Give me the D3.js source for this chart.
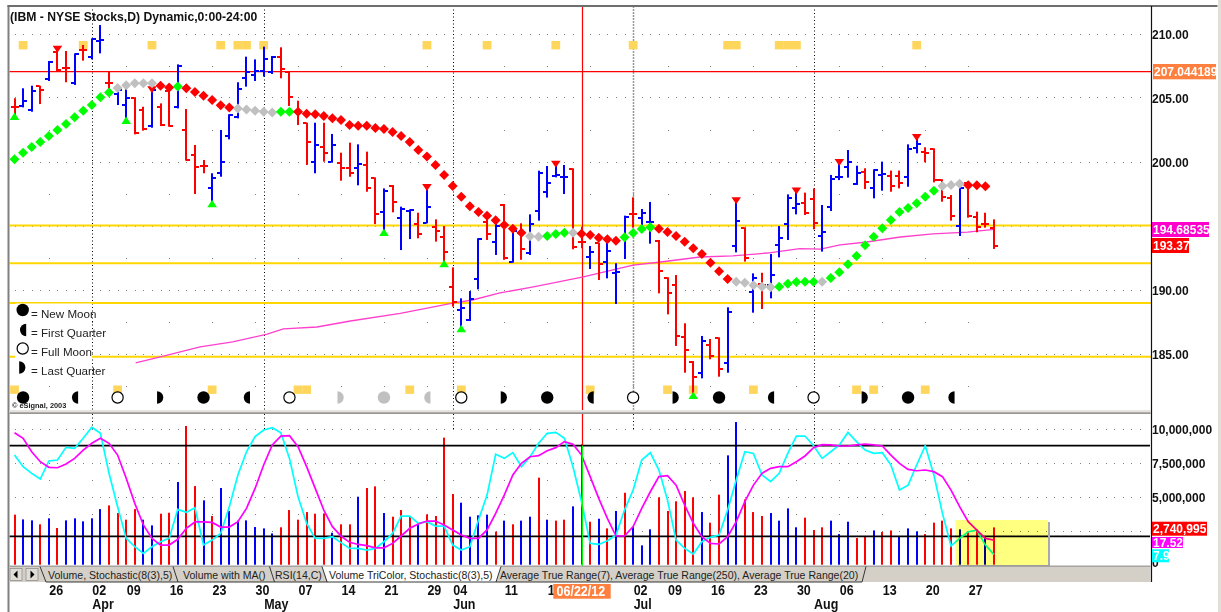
<!DOCTYPE html>
<html><head><meta charset="utf-8">
<script src="https://cdnjs.cloudflare.com/ajax/libs/d3/7.8.5/d3.min.js"></script>
<style>
html,body{margin:0;padding:0;background:#fff;overflow:hidden}
text{font-family:"Liberation Sans",Arial,sans-serif}
</style></head><body><svg id="c" width="1221" height="612"></svg>
<script>
const highP=[
204.94,205.72,205.92,205.92,207.85,208.97,208.63,208.45,209.10,209.62,
210.66,207.02,205.64,206.16,205.01,204.28,205.80,204.54,205.80,207.59,
204.10,201.29,200.12,199.08,202.46,203.69,206.19,208.19,207.98,208.97,
208.24,208.92,207.07,204.75,203.03,203.03,203.03,202.15,200.69,201.47,
201.34,200.77,198.76,197.90,198.16,196.47,196.26,196.00,198.16,195.48,
194.96,191.73,189.31,189.88,194.00,196.00,195.12,196.68,194.70,195.17,
195.87,199.28,199.65,199.99,199.73,199.47,194.91,193.40,193.66,193.87,
192.05,195.77,197.20,196.29,196.84,193.87,190.95,191.13,187.36,184.41,
186.37,186.13,186.26,188.61,197.12,194.86,191.26,191.31,192.77,194.96,
197.43,197.90,197.57,197.90,196.60,198.95,200.12,200.90,199.67,199.47,
199.39,199.99,199.29,199.29,201.34,202.07,201.11,201.03,198.61,197.38,
198.11,198.29,196.08,196.00,195.48];
const lowP=[
203.55,204.23,203.89,204.49,206.29,207.02,206.19,205.98,207.88,207.98,
208.45,205.12,204.41,203.24,202.12,202.41,202.64,202.77,202.72,204.15,
200.07,197.46,199.08,196.73,198.81,201.73,203.37,205.85,206.29,206.63,
206.84,206.50,204.34,202.85,199.73,199.08,199.99,199.93,198.50,198.81,
198.14,197.64,195.11,194.50,196.03,193.08,193.94,194.00,195.17,193.74,
192.05,188.66,186.97,187.54,190.01,193.87,192.70,192.32,192.10,192.32,
192.70,195.38,197.18,198.76,197.46,193.14,193.22,191.60,190.74,190.87,
188.87,192.38,194.83,194.86,193.58,189.70,188.06,185.59,183.50,181.76,
183.06,184.55,183.19,183.50,192.90,192.18,188.19,188.48,189.31,192.51,
193.87,195.87,195.82,194.70,192.96,196.13,198.55,198.74,198.17,197.85,
197.12,197.72,197.64,197.90,198.03,200.64,199.94,198.37,196.86,195.38,
194.18,195.61,194.47,194.83,193.17];
const openP=[
204.28,204.34,204.02,205.90,206.42,208.58,207.33,206.11,208.71,208.19,
209.44,206.16,205.25,204.41,204.93,204.02,202.77,204.23,205.53,204.28,
202.46,200.51,199.65,197.90,199.08,201.99,203.45,206.55,206.73,207.10,
207.02,208.19,207.02,203.89,202.98,199.99,201.16,200.00,199.91,199.47,
199.47,199.73,198.68,196.03,198.08,195.61,196.13,195.10,195.22,194.86,
194.13,190.17,188.40,187.62,190.82,195.30,193.74,196.60,192.15,194.39,
192.83,196.13,197.59,198.89,198.76,199.39,193.74,192.57,193.60,192.12,
191.31,194.00,195.90,195.56,195.25,193.82,190.87,190.35,186.26,184.31,
183.45,185.66,186.18,184.23,193.42,194.78,189.83,190.40,190.35,193.48,
195.12,196.34,196.73,197.04,194.18,196.47,198.76,199.54,198.24,199.20,
197.90,198.95,198.87,198.87,198.82,201.03,200.77,200.95,198.55,197.12,
194.99,198.29,195.69,195.12,194.78];
const closeP=[
204.28,204.70,205.53,205.59,207.80,207.15,207.33,208.37,208.71,209.54,
209.49,206.16,205.59,204.94,202.25,202.51,205.59,202.83,202.77,207.49,
200.12,199.54,199.65,198.68,199.99,203.63,205.64,206.97,207.07,207.98,
208.14,207.25,205.01,203.89,201.50,201.29,200.64,201.29,199.47,199.08,
199.80,197.90,195.87,197.72,196.86,196.26,196.20,194.34,196.47,194.57,
192.90,189.05,188.58,189.23,193.95,194.34,194.99,192.49,194.60,193.14,
195.12,199.13,198.30,198.95,198.82,193.35,193.74,192.93,191.99,193.03,
191.39,195.64,195.90,195.95,195.30,191.47,189.70,186.37,185.27,183.14,
186.00,184.80,183.76,188.27,195.38,192.44,190.93,190.35,191.13,194.05,
197.12,196.68,195.95,195.17,194.47,198.61,198.82,199.94,199.08,198.37,
199.34,199.02,198.11,198.35,200.95,201.34,200.69,198.55,197.25,195.74,
197.90,195.74,194.91,195.12,193.37];
const dynMA=[
200.17,200.69,201.13,201.52,201.99,202.46,202.93,203.45,203.97,204.41,
205.01,205.40,205.74,205.95,206.11,206.11,206.11,205.92,205.79,205.85,
205.72,205.43,205.14,204.80,204.39,204.21,204.15,204.07,203.97,203.89,
203.82,203.89,203.89,203.89,203.74,203.69,203.55,203.37,203.24,202.85,
202.80,202.80,202.62,202.54,202.30,201.99,201.52,200.90,200.39,199.73,
198.94,198.09,197.25,196.50,196.05,195.77,195.41,195.04,194.75,194.44,
194.16,194.13,194.18,194.34,194.44,194.44,194.36,194.26,194.05,193.92,
193.81,194.08,194.41,194.73,194.86,194.75,194.49,194.18,193.74,193.22,
192.77,192.09,191.42,190.82,190.61,190.53,190.33,190.22,190.17,190.22,
190.45,190.59,190.61,190.61,190.61,190.90,191.34,191.97,192.62,193.45,
194.13,194.78,195.43,196.05,196.37,196.73,197.25,197.72,198.09,198.17,
198.27,198.14,198.14,198.06];
const dynState=(
"gggggggggggg"+"sssss"+"rr"+"g"+"rrrrrr"+"sssss"+"gg"+
"rrrrrrrrrrrrrrrrrrrrrrrrrrr"+"ss"+"ggg"+"s"+"rrrrr"+"gggg"+"rrrrrrrrr"+
"sssss"+"ggggg"+"s"+"ggggggggggggg"+"sss"+"rrr").split("");
const smaIdx=[14.1,17.8,21.6,25.4,29.4,31.3,35.2,39.1,44.9,51,53.3,56.5,60.4,66.2,72,75.2,79.8,83.6,87.6,91.4,93.8,96.1,99.2,103.1,106.9,110.9,114];
const smaVal=[184.26,184.88,185.51,185.9,186.52,186.92,187.07,187.54,188.13,188.94,189.18,189.73,190.2,190.98,191.91,192.15,192.54,192.62,192.85,193.19,193.16,193.48,193.71,194.1,194.34,194.49,194.69];
const upSignals=[0,13,23,43,50,52,79];
const downSignals=[5,16,48,63,84,91,96,105];
const squaresTop=[1,8,16,24,26,27,29,48,55,63,72,83,84,89,90,91,105];
const squaresBottom=[0,12,23,33,34,46,52,67,76,79,86,98,100,106];
const moonIdx=[1,7,12,17,22,27,32,38,43,48,52,57,62,67,72,77,82,88,93,99,104,109];
const moonPhase=["new","first","full","last","new","first","full","last","new","first","full","last","new","first","full","last","new","first","full","last","new","first"];
const moonGray=[38,43,48];
const levelLines=[195,192.05,188.95,184.75];
const pivotLevel=207.044189;
const volumeM=[
3.68,3.33,3.26,2.97,3.41,2.70,3.26,3.41,3.19,3.41,
4.09,4.36,3.80,3.31,4.09,3.31,2.89,3.75,3.82,6.08,
10.20,5.78,4.73,3.58,5.64,3.95,3.24,3.26,2.77,2.67,
2.30,2.75,4.02,3.31,3.87,3.75,3.77,2.35,2.97,2.97,
5.00,5.64,5.76,3.80,3.53,4.02,3.53,2.97,3.70,3.58,
9.34,5.20,4.56,3.53,3.63,3.68,2.43,3.24,2.97,3.24,
3.53,6.40,3.31,3.24,3.31,4.29,8.85,3.16,3.38,2.67,
3.95,5.29,2.79,1.42,2.60,4.95,3.95,4.66,5.42,4.95,
3.87,3.09,5.15,8.04,10.49,4.80,3.87,3.58,3.80,3.24,
4.14,2.75,3.46,2.55,2.75,3.24,2.25,3.16,1.96,2.11,
2.52,2.40,2.52,2.11,2.67,2.45,2.25,3.09,3.24,2.67,
2.60,2.45,2.60,2.11,2.741];
const volumeColor=(
"rbbrbrbbbbbrrrrbbrrbrrbrbbbbbbbrrrrrrbrrbrrbr"+
"rrbrrrrbbbbrbrbbrbrrbrrbrbrbbbrrrrrbrrbbrrrbbbb"+
"rrrbbbrrbrrbbbrrrrbrrbr").split("");
const stochK=[
73.8,66.1,61.7,57.9,69.9,70.5,78.9,78.2,84.9,92.2,
88.2,61.7,39.6,18.6,13.1,8.7,13.1,16.4,18.6,37.8,
35.9,38.9,14.2,17.5,21.9,39.6,60.6,76,86,90.4,
91.9,88.6,71.6,46.2,28.6,18.6,18.6,19.7,15.8,12,
12,10.9,12,16.4,21.9,33.4,33.4,28.6,29.7,26.8,
26.8,14.2,10.9,13.1,30.8,47.3,74.3,71.6,75.4,66.1,
72.7,81.6,88.2,88.8,84.9,66.1,42.9,15.3,14.6,17.1,
20.8,37.4,50.6,70.5,75.4,63.9,44,17.5,12,8.3,
16.4,19.3,20.8,37.4,57.3,76,74.9,60.6,56.2,61.7,
74.9,86.4,86.4,80,71.6,76,80.5,88.8,82.7,77.1,
74.9,75.4,67.2,50.6,53.9,67.2,80,60.6,35.2,13.6,
18.6,23,24.1,14.2,7.9];
const stochD=[
88.6,84.9,76,69.4,65.7,65.4,67.9,71.6,77.1,81.6,
84.9,81.6,73.8,58.4,41.8,27.5,18.6,14.2,14.2,18,
25.3,29.5,29.5,29.2,26.1,26.1,29.7,38.5,51.7,67.2,
80.5,86.4,86.6,79.3,66.1,51.7,37.4,26.4,20.2,16,
14.6,13.8,12.4,12.4,15.3,20.2,25.3,28.1,30.1,30.1,
27.5,24.2,20.8,18.6,18.6,24.2,35.2,47.3,60.6,68.3,
72.7,73.4,76.7,78.7,82.7,80.9,73.8,59.5,45.1,31.9,
20.2,20.2,26.4,38.5,49.5,59.5,60.1,53.9,40.7,28.6,
19.7,15.3,14.9,19.7,29.7,42.9,53.9,61.7,65,66.1,
66.1,69.4,73.2,78.7,80.7,80.5,79.8,79.8,80.5,81.1,
80.5,79.8,73.8,68.3,64.3,63.4,63.9,62.8,59.5,50.6,
39.6,29.7,24.1,18.6,17.5];
const weekIdx=[4,9,13,18,23,28,33,38,43,48,51,57,62,67,72,76,81,86,91,96,101,106,111];
const weekLabels=["26","02","09","16","23","30","07","14","21","29","04","11","18","","02","09","16","23","30","06","13","20","27"];
const monthIdx=[9,29,51,72,93];
const monthLabels=["Apr","May","Jun","Jul","Aug"];
const priceTicks=[210,205,200,195,190,185];
const volTicks=[10,7.5,5,0];
const legendLabels=["= New Moon","= First Quarter","= Full Moon","= Last Quarter"];
const legendPhases=["new","first","full","last"];
const tabNames=["Volume, Stochastic(8(3),5)","Volume with MA()","RSI(14,C)","Volume TriColor, Stochastic(8(3),5)","Average True Range(7), Average True Range(250), Average True Range(20)"];
const cursorIdx=66;

const RED="#ff0000",BLUE="#0000ff",GREEN="#00ff00",GRAY="#c0c0c0",CYAN="#00ffff",MAG="#ff00ff",GOLD="#ffd700",SQ="#ffd65c",ORANGE="#ff7f3f";
const svg=d3.select("#c");
const x=d3.scaleLinear().domain([0,114]).range([14.5,994]);
const y=d3.scaleLinear().domain([210,185]).range([33.5,353.5]);
const yv=d3.scaleLinear().domain([0,10]).range([564.7,428.7]);
const ys=d3.scaleLinear().domain([0,100]).range([566.5,415.5]);
const L=9.5,R=1151,Top=6,PaneEnd=411,LTop=414,LBot=566;
const idxs=d3.range(highP.length);
const gridIdx=d3.range(0,132);
const sx=i=>Math.round(x(i));

// stretch text vertically: keep its width, enlarge its height
function stretch(sel,f){
  sel.each(function(){
    const fs=parseFloat(this.getAttribute("font-size"));
    const w=this.getComputedTextLength();
    if(!w)return;
    this.setAttribute("font-size",fs*f);
    this.setAttribute("textLength",w);
    this.setAttribute("lengthAdjust","spacingAndGlyphs");
  });
}

// grid dots
const g=svg.append("g").attr("fill","#808080");
priceTicks.forEach(p=>g.selectAll(null).data(gridIdx).join("rect").attr("x",d=>sx(d)).attr("y",Math.round(y(p))).attr("width",1).attr("height",1));
d3.range(207.5,182,-5).forEach(p=>g.selectAll(null).data(weekIdx).join("rect").attr("x",d=>sx(d)).attr("y",Math.round(y(p))).attr("width",1).attr("height",1));
[10,7.5,5,2.5].forEach(v=>g.selectAll(null).data(gridIdx).join("rect").attr("x",d=>sx(d)).attr("y",Math.round(yv(v))).attr("width",1).attr("height",1));
[6.25,3.75].forEach(v=>g.selectAll(null).data(weekIdx).join("rect").attr("x",d=>sx(d)).attr("y",Math.round(yv(v))).attr("width",1).attr("height",1));
// month dotted lines
svg.append("g").selectAll("line").data(monthIdx).join("line")
 .attr("x1",d=>sx(d)+.5).attr("x2",d=>sx(d)+.5).attr("y1",Top).attr("y2",PaneEnd)
 .attr("stroke",d=>d===72?"#999":"#000").attr("stroke-width",d=>d===72?1.5:1).attr("stroke-dasharray",d=>d===72?"2,1":"1,2.5");
svg.append("g").selectAll("line").data(monthIdx).join("line")
 .attr("x1",d=>sx(d)+.5).attr("x2",d=>sx(d)+.5).attr("y1",LTop).attr("y2",d=>d===93?446:430)
 .attr("stroke","#000").attr("stroke-dasharray","1,2.5");
// squares
const sq=svg.append("g").attr("fill",SQ);
sq.selectAll(null).data(squaresTop).join("rect").attr("x",d=>x(d)-4.4).attr("y",41).attr("width",8.8).attr("height",8.4);
sq.selectAll(null).data(squaresBottom).join("rect").attr("x",d=>x(d)-4.4).attr("y",385.5).attr("width",8.8).attr("height",8.4);
// level lines
svg.append("g").selectAll("line").data(levelLines).join("line")
 .attr("x1",L).attr("x2",R).attr("y1",d=>y(d)).attr("y2",d=>y(d)).attr("stroke",GOLD).attr("stroke-width",2);
svg.append("line").attr("x1",L).attr("x2",R).attr("y1",y(pivotLevel)+.3).attr("y2",y(pivotLevel)+.3).attr("stroke",RED).attr("stroke-width",1.2);
// cursor
const cx=sx(cursorIdx)+.5;
svg.append("line").attr("x1",cx).attr("x2",cx).attr("y1",Top).attr("y2",PaneEnd).attr("stroke",RED).attr("stroke-width",1.2);
// long MA
const sma=smaIdx.map((d,i)=>[d,smaVal[i]]);
svg.append("path").attr("d",d3.line().x(d=>x(d[0])).y(d=>y(d[1]))(sma)).attr("fill","none").attr("stroke","#ff40cc").attr("stroke-width",1.3);
// price bars
const pb=svg.append("g").selectAll("g").data(idxs).join("g").attr("fill",i=>closeP[i]>openP[i]?BLUE:RED);
pb.append("rect").attr("x",i=>sx(i)-1).attr("width",2).attr("y",i=>y(highP[i])).attr("height",i=>y(lowP[i])-y(highP[i]));
pb.append("rect").attr("x",i=>sx(i)-4).attr("width",3.5).attr("height",2).attr("y",i=>Math.round(y(openP[i]))-1);
pb.append("rect").attr("x",i=>sx(i)).attr("width",4).attr("height",2).attr("y",i=>Math.round(y(closeP[i]))-1);
// signals
svg.append("g").attr("fill",GREEN).selectAll("path").data(upSignals).join("path")
 .attr("d",i=>`M${x(i)},${y(lowP[i])-3.5}l4.8,7.5h-9.6z`);
svg.append("g").attr("fill",RED).selectAll("path").data(downSignals).join("path")
 .attr("d",i=>`M${x(i)},${y(highP[i])+6}l4.8,-7h-9.6z`);
// diamonds
svg.append("g").selectAll("path").data(dynMA).join("path")
 .attr("d",(d,i)=>`M${x(i)-5},${y(d)}l5,-5l5,5l-5,5z`)
 .attr("fill",(d,i)=>({g:GREEN,s:GRAY,r:RED})[dynState[i]]);
// moons
const half=(side,r)=>d3.arc()({innerRadius:0,outerRadius:r,startAngle:side==="first"?Math.PI:0,endAngle:side==="first"?2*Math.PI:Math.PI});
function moon(sel,phase,cx0,cy0,col){
  if(phase==="new")sel.append("circle").attr("cx",cx0).attr("cy",cy0).attr("r",6.2).attr("fill",col);
  else if(phase==="full")sel.append("circle").attr("cx",cx0).attr("cy",cy0).attr("r",5.6).attr("fill","#fff").attr("stroke",col).attr("stroke-width",1.2);
  else sel.append("path").attr("d",half(phase,6.2)).attr("transform",`translate(${cx0+(phase==="first"?3.5:-3.5)},${cy0})`).attr("fill",col);
}
const mg=svg.append("g");
moonIdx.forEach((d,i)=>moon(mg,moonPhase[i],x(d),397.5,moonGray.includes(d)?GRAY:"#000"));
// legend
svg.append("rect").attr("x",15).attr("y",303.5).attr("width",77).attr("height",76).attr("fill","#fff");
const lg=svg.append("g");
legendPhases.forEach((p,i)=>{
  moon(lg,p,22.7,[310,330,348.5,367.5][i],"#000");
  lg.append("text").attr("x",31).attr("y",[318,337,356,375][i]).attr("font-size",11.6).attr("fill","#222").text(legendLabels[i]);
});
svg.append("text").attr("x",12).attr("y",408).attr("font-size",7.4).attr("font-weight","bold").attr("fill","#222").text("© eSignal, 2003");
// title
const title=svg.append("text").attr("x",10).attr("y",20.5).attr("font-size",12.2).attr("font-weight","bold").attr("fill","#111").text("(IBM - NYSE Stocks,D) Dynamic,0:00-24:00");
stretch(title,1.08);

// lower pane
svg.append("g").selectAll("rect").data(idxs).join("rect")
 .attr("x",i=>sx(i)-1).attr("width",2).attr("y",i=>yv(volumeM[i])).attr("height",i=>yv(0)-yv(volumeM[i]))
 .attr("fill",i=>volumeColor[i]==="r"?RED:BLUE);
[80,20].forEach(v=>svg.append("line").attr("x1",L).attr("x2",R-1).attr("y1",ys(v)).attr("y2",ys(v)).attr("stroke","#000").attr("stroke-width",1.8));
const stLine=d3.line().x((d,i)=>x(i)).y(d=>ys(d));
svg.append("path").attr("d",stLine(stochK)).attr("fill","none").attr("stroke",CYAN).attr("stroke-width",1.7);
svg.append("path").attr("d",stLine(stochD)).attr("fill","none").attr("stroke",MAG).attr("stroke-width",1.7);
// cursor in lower pane
svg.append("line").attr("x1",cx).attr("x2",cx).attr("y1",LTop).attr("y2",ys(80)).attr("stroke",RED).attr("stroke-width",1.2);
svg.append("line").attr("x1",cx).attr("x2",cx).attr("y1",ys(80)).attr("y2",LBot).attr("stroke",GREEN).attr("stroke-width",1);
// yellow note
svg.append("rect").attr("x",1048).attr("y",522).attr("width",2).attr("height",45).attr("fill","#aaa");
svg.append("rect").attr("x",958).attr("y",565).attr("width",92).attr("height",2).attr("fill","#aaa");
svg.append("rect").attr("x",955.5).attr("y",520).attr("width",92.5).attr("height",45).attr("fill","#ffff80").style("mix-blend-mode","multiply");

// frame
svg.append("rect").attr("x",7.5).attr("y",5).attr("width",2).attr("height",607).attr("fill","#808080");
svg.append("rect").attr("x",7.5).attr("y",5).attr("width",1210).attr("height",2).attr("fill","#6e6e6e");
svg.append("rect").attr("x",1218).attr("y",0).attr("width",3).attr("height",612).attr("fill","#e2dfd8");
svg.append("rect").attr("x",9.5).attr("y",410).attr("width",1141).attr("height",4).attr("fill","#e6e4de");
svg.append("rect").attr("x",9.5).attr("y",412.5).attr("width",1141).attr("height",1.2).attr("fill","#777");
// tab bar
const tb=svg.append("g");
tb.append("rect").attr("x",9.5).attr("y",566).attr("width",1141).attr("height",16).attr("fill","#d4d0c8");
tb.append("rect").attr("x",9.5).attr("y",565.6).attr("width",1141).attr("height",1).attr("fill","#8a8a8a");
[10,26].forEach((bx,i)=>{
  tb.append("rect").attr("x",bx).attr("y",568.5).attr("width",12).attr("height",12).attr("fill","#e0ddd6").attr("stroke","#888").attr("stroke-width",.7);
  tb.append("path").attr("d",i===0?`M${bx+3.5},574.5l4,-4v8z`:`M${bx+8.5},574.5l-4,-4v8z`).attr("fill","#000");
});
tb.append("path").attr("d","M322,566.5L328,582H496L501,566.5Z").attr("fill","#fff");
tb.append("path").attr("d","M40,566.5L46,582H862L866,566.5").attr("fill","none").attr("stroke","#222").attr("stroke-width",.9);
[173,269.5,322].forEach(t=>tb.append("line").attr("x1",t).attr("y1",566.5).attr("x2",t+5).attr("y2",582).attr("stroke","#222").attr("stroke-width",.9));
tb.append("line").attr("x1",501).attr("y1",566.5).attr("x2",496).attr("y2",582).attr("stroke","#222").attr("stroke-width",.9);
const tabText=tb.selectAll("text.tab").data(tabNames).join("text").attr("class","tab").attr("x",(d,i)=>[48,183,275,329,500][i]).attr("y",579).attr("font-size",10.55).attr("fill","#222").text(d=>d);
stretch(tabText,1.05);

// axes
svg.append("line").attr("x1",R+.5).attr("x2",R+.5).attr("y1",Top).attr("y2",582).attr("stroke","#111").attr("stroke-width",1.2);
const styleAxis=s=>{s.select(".domain").remove();s.selectAll("text").attr("font-size",12).attr("font-weight","bold").attr("font-family","Liberation Sans").attr("fill","#111");};
const pAxis=svg.append("g").attr("transform",`translate(${R+1},0.5)`).call(d3.axisRight(y).tickValues(priceTicks).tickSize(0).tickPadding(0).tickFormat(d3.format(".2f"))).call(styleAxis);
const vAxis=svg.append("g").attr("transform",`translate(${R+1},0.5)`).call(d3.axisRight(yv).tickValues(volTicks).tickSize(0).tickPadding(0).tickFormat(d=>d3.format(",")(d*1e6))).call(styleAxis);
vAxis.selectAll("text").filter(d=>d===0).attr("y",-3);
stretch(pAxis.selectAll("text"),1.12);
stretch(vAxis.selectAll("text"),1.12);
const xa=svg.append("g").attr("transform","translate(0,585)").call(d3.axisBottom(x).tickValues(weekIdx).tickSize(0).tickPadding(0).tickFormat((d,i)=>weekLabels[i])).call(styleAxis);
xa.selectAll("text").attr("text-anchor","start").attr("font-size",12.5);
stretch(xa.selectAll("text"),1.1);
const xm=svg.append("g").attr("transform","translate(0,599)").call(d3.axisBottom(x).tickValues(monthIdx).tickSize(0).tickPadding(0).tickFormat((d,i)=>monthLabels[i])).call(styleAxis);
xm.selectAll("text").attr("text-anchor","start").attr("font-size",12.5);
stretch(xm.selectAll("text"),1.1);

// value boxes
function box(x0,y0,w,h,fill,txt){
  svg.append("rect").attr("x",x0).attr("y",y0).attr("width",w).attr("height",h).attr("fill",fill);
  const t=svg.append("text").attr("x",x0+1).attr("y",y0+h/2+4.6).attr("font-size",12).attr("font-weight","bold").attr("fill","#fff").text(txt);
  stretch(t,1.12);
}
box(1153,64,63,15.3,ORANGE,"207.044189");
box(1152,222,57,15,"#ff00cc","194.68535");
box(1152,238,37,15,RED,"193.37");
box(1152,521.7,55,14,RED,"2,740,995");
box(1152,537,31,11,MAG,"17.52");
box(1152,549.3,17,13,CYAN,"7.9");
// date box
svg.append("rect").attr("x",553.3).attr("y",584).attr("width",57.4).attr("height",14.7).attr("fill",ORANGE);
const dt=svg.append("text").attr("x",556.5).attr("y",596).attr("font-size",12.5).attr("font-weight","bold").attr("fill","#fff").text("06/22/12");
stretch(dt,1.1);
</script></body></html>
